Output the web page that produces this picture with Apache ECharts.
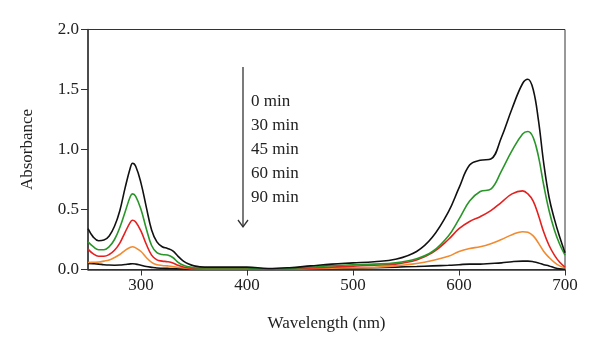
<!DOCTYPE html>
<html>
<head>
<meta charset="utf-8">
<script src="https://cdn.jsdelivr.net/npm/echarts@6/dist/echarts.min.js"></script>
<style>
    html, body { margin: 0; padding: 0; background: #fff; }
    #chart { width: 600px; height: 354px; }
</style>
</head>
<body>
<div id="chart"></div>
<script>
// 波长 (nm)
const wavelengths = [250, 255, 260, 265, 270, 275, 280, 285, 290, 292, 295, 300, 305, 310, 315, 320, 325, 330, 335, 340, 345, 350, 360, 380, 400, 420, 440, 460, 480, 500, 520, 540, 560, 575, 590, 600, 610, 620, 630, 640, 650, 660, 665, 670, 675, 680, 685, 690, 695, 700];

const abs0 = [0.34, 0.27, 0.24, 0.245, 0.28, 0.36, 0.49, 0.68, 0.85, 0.885, 0.86, 0.72, 0.52, 0.33, 0.23, 0.19, 0.175, 0.155, 0.11, 0.07, 0.045, 0.03, 0.02, 0.02, 0.02, 0.008, 0.015, 0.03, 0.045, 0.055, 0.065, 0.085, 0.15, 0.27, 0.48, 0.68, 0.87, 0.91, 0.92, 1.1, 1.34, 1.55, 1.585, 1.5, 1.24, 0.88, 0.6, 0.42, 0.27, 0.14];
const abs30 = [0.23, 0.19, 0.165, 0.165, 0.19, 0.25, 0.35, 0.48, 0.61, 0.63, 0.61, 0.5, 0.34, 0.2, 0.14, 0.125, 0.12, 0.1, 0.06, 0.035, 0.022, 0.015, 0.012, 0.012, 0.012, 0.005, 0.01, 0.02, 0.032, 0.04, 0.045, 0.055, 0.09, 0.15, 0.28, 0.42, 0.57, 0.65, 0.67, 0.82, 0.99, 1.13, 1.15, 1.1, 0.94, 0.7, 0.49, 0.33, 0.21, 0.12];
const abs45 = [0.17, 0.13, 0.11, 0.11, 0.125, 0.16, 0.22, 0.31, 0.395, 0.41, 0.395, 0.32, 0.21, 0.12, 0.08, 0.07, 0.065, 0.055, 0.035, 0.02, 0.012, 0.008, 0.006, 0.006, 0.006, 0.003, 0.006, 0.012, 0.02, 0.028, 0.035, 0.045, 0.08, 0.14, 0.25, 0.34, 0.4, 0.44, 0.49, 0.56, 0.63, 0.655, 0.63, 0.57, 0.45, 0.31, 0.2, 0.12, 0.06, 0.02];
const abs60 = [0.058, 0.06, 0.062, 0.07, 0.08, 0.1, 0.125, 0.16, 0.185, 0.19, 0.18, 0.15, 0.1, 0.06, 0.04, 0.034, 0.03, 0.025, 0.018, 0.012, 0.008, 0.006, 0.005, 0.005, 0.005, 0.003, 0.004, 0.007, 0.01, 0.014, 0.018, 0.03, 0.05, 0.075, 0.11, 0.15, 0.175, 0.19, 0.215, 0.25, 0.29, 0.315, 0.31, 0.28, 0.22, 0.15, 0.1, 0.06, 0.03, 0.015];
const abs90 = [0.05, 0.048, 0.045, 0.04, 0.037, 0.036, 0.037, 0.042, 0.047, 0.048, 0.045, 0.035, 0.025, 0.018, 0.012, 0.01, 0.009, 0.008, 0.007, 0.006, 0.005, 0.005, 0.004, 0.004, 0.004, 0.002, 0.003, 0.005, 0.008, 0.012, 0.015, 0.02, 0.025, 0.03, 0.035, 0.04, 0.045, 0.045, 0.05, 0.055, 0.065, 0.07, 0.07, 0.065, 0.055, 0.04, 0.03, 0.015, 0.005, 0.002];

const seriesNames = ["0 min", "30 min", "45 min", "60 min", "90 min"];
const seriesColors = ["#111111", "#2a962a", "#e3211f", "#f28a30", "#111111"];
const seriesData = [abs0, abs30, abs45, abs60, abs90];

const xTicks = [300, 400, 500, 600, 700];

const FONT = "Liberation Serif";
const chart = echarts.init(document.getElementById("chart"));

const series = seriesData.map((vals, i) => ({
    name: seriesNames[i],
    type: "line",
    smooth: 0.4,
    showSymbol: false,
    lineStyle: { color: seriesColors[i], width: 1.6 },
    data: wavelengths.map((w, j) => [w, vals[j]]),
    z: 10 - i,
}));

// 右侧图例文字 + 箭头
const legendTexts = seriesNames.map((n, i) => ({
    type: "text",
    left: 251,
    top: 101 + i * 24 - 8,
    style: { text: n, font: "17px " + FONT, fill: "#222" },
}));

chart.setOption({
    animation: false,
    grid: {
        left: 88, right: 35, top: 29.5, bottom: 84.5,
        show: true, borderColor: "#333", borderWidth: 1, backgroundColor: "transparent",
    },
    xAxis: {
        type: "value",
        min: 250,
        max: 700,
        name: "Wavelength (nm)",
        nameLocation: "middle",
        nameGap: 46,
        nameTextStyle: { fontFamily: FONT, fontSize: 17, color: "#222" },
        axisLine: { lineStyle: { color: "#333", width: 1.5 } },
        axisTick: { show: true, length: 6, customValues: xTicks, lineStyle: { color: "#333" } },
        axisLabel: { customValues: xTicks, fontFamily: FONT, fontSize: 17, color: "#222", margin: 8 },
        splitLine: { show: false },
    },
    yAxis: {
        type: "value",
        min: 0,
        max: 2,
        interval: 0.5,
        name: "Absorbance",
        nameLocation: "middle",
        nameGap: 52,
        nameTextStyle: { fontFamily: FONT, fontSize: 17, color: "#222" },
        axisLine: { show: true, lineStyle: { color: "#333", width: 1.5 } },
        axisTick: { show: true, length: 7, lineStyle: { color: "#333" } },
        axisLabel: {
            fontFamily: FONT, fontSize: 17, color: "#222", margin: 9,
            formatter: (v) => v.toFixed(1),
        },
        splitLine: { show: false },
    },
    series: series,
    graphic: [
        {
            type: "line",
            shape: { x1: 243, y1: 67, x2: 243, y2: 227 },
            style: { stroke: "#333", lineWidth: 1.3 },
        },
        {
            type: "polyline",
            shape: { points: [[238, 220], [243, 227], [248, 220]] },
            style: { stroke: "#333", lineWidth: 1.3, fill: null },
        },
        ...legendTexts,
    ],
});
</script>
</body>
</html>
